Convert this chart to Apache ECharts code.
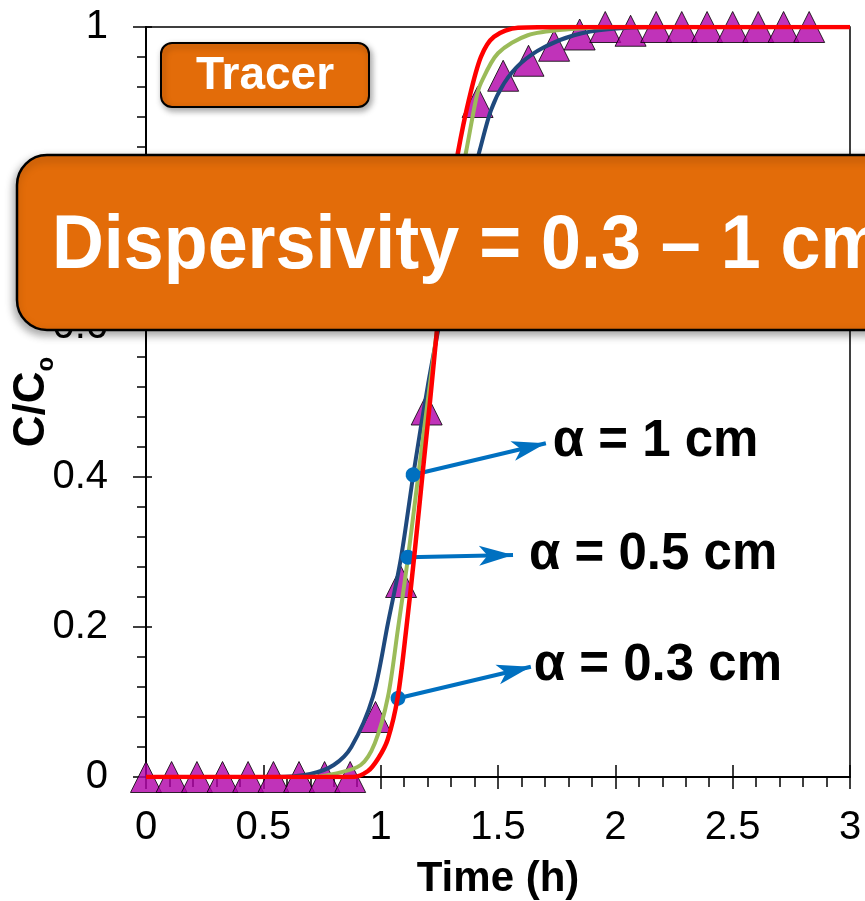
<!DOCTYPE html>
<html>
<head>
<meta charset="utf-8">
<script src="https://cdn.jsdelivr.net/npm/echarts@6/dist/echarts.min.js"></script>
<style>
  html, body { margin: 0; padding: 0; background: #ffffff; }
  #chart { width: 865px; height: 901px; }
</style>
</head>
<body>
<div id="chart"></div>
<script>
const FONT = '"Liberation Sans", Arial, Helvetica, sans-serif';

// Measured tracer breakthrough: time (h) and relative concentration C/Co
const tracerTime = [0, 0.109, 0.217, 0.326, 0.435, 0.543, 0.652, 0.761, 0.870, 0.978,
  1.087, 1.196, 1.304, 1.413, 1.522, 1.630, 1.739, 1.848, 1.957, 2.065,
  2.174, 2.283, 2.391, 2.500, 2.609, 2.717, 2.826];
const tracerConc = [0, 0, 0, 0, 0, 0, 0, 0, 0, 0.08,
  0.26, 0.49, 0.75, 0.90, 0.935, 0.955, 0.975, 0.99, 1.0, 0.995,
  1.0, 1.0, 1.0, 1.0, 1.0, 1.0, 1.0];

// Fitted model curves for three dispersivity values
const timeA1  = [0, 0.55, 0.70, 0.80, 0.875, 0.967, 1.031, 1.087, 1.142, 1.20, 1.245, 1.31, 1.38, 1.419, 1.47, 1.526, 1.598, 1.696, 1.824, 1.968, 2.2, 3.0];
const concA1  = [0, 0, 0.004, 0.016, 0.04, 0.107, 0.205, 0.293, 0.409, 0.52, 0.596, 0.70, 0.79, 0.832, 0.889, 0.925, 0.952, 0.973, 0.989, 0.997, 1.0, 1.0];

const timeA05 = [0, 0.70, 0.80, 0.915, 0.975, 1.031, 1.073, 1.115, 1.163, 1.20, 1.24, 1.283, 1.335, 1.363, 1.406, 1.427, 1.50, 1.627, 1.80, 2.0, 3.0];
const concA05 = [0, 0, 0.004, 0.016, 0.045, 0.107, 0.196, 0.289, 0.409, 0.50, 0.596, 0.70, 0.79, 0.832, 0.903, 0.925, 0.965, 0.989, 0.997, 1.0, 1.0];

const timeA03 = [0, 0.88, 0.946, 0.99, 1.03, 1.073, 1.11, 1.145, 1.18, 1.21, 1.24, 1.275, 1.31, 1.329, 1.376, 1.427, 1.483, 1.585, 1.8, 3.0];
const concA03 = [0, 0, 0.008, 0.025, 0.05, 0.107, 0.20, 0.30, 0.409, 0.50, 0.596, 0.70, 0.79, 0.832, 0.903, 0.96, 0.987, 0.999, 1.0, 1.0];

// Callouts: start point on a curve, arrow tip, label
const calloutLabels = ['α = 1 cm', 'α = 0.5 cm', 'α = 0.3 cm'];
const calloutFrom   = [[1.138, 0.403], [1.116, 0.293], [1.074, 0.105]];
const calloutTo     = [[1.704, 0.445], [1.564, 0.296], [1.640, 0.147]];
const calloutGap    = [7, 16, 3];

// Axis tick labels
const xTickLabels = ['0', '0.5', '1', '1.5', '2', '2.5', '3'];
const yTickLabels = ['0', '0.2', '0.4', '0.6', '0.8', '1'];

const pairs = (xs, ys) => xs.map((x, i) => [x, ys[i]]);

const chart = echarts.init(document.getElementById('chart'), null, { renderer: 'canvas' });

const tickLine = { color: '#000', width: 1.5 };

const curveStyle = (color, width) => ({
  type: 'line', xAxisIndex: 0, yAxisIndex: 0,
  showSymbol: false, smooth: 0.3,
  lineStyle: { color: color, width: width }
});

const option = {
  animation: false,
  backgroundColor: '#ffffff',
  grid: {
    left: 146, right: 15, top: 27, bottom: 124,
    containLabel: false, outerBoundsMode: 'none',
    show: true, borderColor: '#000', borderWidth: 1.5, backgroundColor: 'transparent'
  },
  xAxis: [
    {
      type: 'value', min: 0, max: 3, interval: 0.5, position: 'bottom',
      name: 'Time (h)', nameLocation: 'middle', nameGap: 81, nameMoveOverlap: false,
      nameTextStyle: { fontFamily: FONT, fontSize: 42, fontWeight: 'bold', color: '#000' },
      axisLine: { show: true, onZero: false, lineStyle: { color: '#000', width: 2 } },
      axisTick: { show: true, inside: false, length: 12, lineStyle: tickLine },
      minorTick: { show: true, splitNumber: 5, length: 10, lineStyle: tickLine },
      splitLine: { show: false },
      axisLabel: {
        fontFamily: FONT, fontSize: 40, color: '#000', margin: 31,
        formatter: v => xTickLabels[Math.round(v / 0.5)]
      }
    },
    {
      type: 'value', min: 0, max: 3, interval: 0.5, position: 'bottom',
      axisLine: { show: false },
      axisTick: { show: true, inside: true, length: 12, lineStyle: tickLine },
      splitLine: { show: false },
      axisLabel: { show: false }
    }
  ],
  yAxis: [
    {
      type: 'value', min: 0, max: 1, interval: 0.2, position: 'left',
      name: '{c|C/C}{o|o}', nameLocation: 'middle', nameGap: 88, nameMoveOverlap: false,
      nameTextStyle: {
        rich: {
          c: { fontFamily: FONT, fontSize: 44, fontWeight: 'bold', color: '#000', lineHeight: 52 },
          o: { fontFamily: FONT, fontSize: 24, fontWeight: 'bold', color: '#000', lineHeight: 24, verticalAlign: 'bottom' }
        }
      },
      axisLine: { show: true, onZero: false, lineStyle: { color: '#000', width: 2 } },
      axisTick: { show: true, inside: false, length: 13, lineStyle: tickLine },
      minorTick: { show: true, splitNumber: 5, length: 9, lineStyle: tickLine },
      splitLine: { show: false },
      axisLabel: {
        fontFamily: FONT, fontSize: 40, color: '#000', margin: 38,
        formatter: v => yTickLabels[Math.round(v / 0.2)]
      }
    },
    {
      type: 'value', min: 0, max: 1, interval: 0.2, position: 'left',
      axisLine: { show: false },
      axisTick: { show: true, inside: true, length: 6, lineStyle: tickLine },
      splitLine: { show: false },
      axisLabel: { show: false }
    }
  ],
  series: [
    {
      name: 'Tracer', type: 'scatter', xAxisIndex: 0, yAxisIndex: 0,
      symbol: 'triangle', symbolSize: [31, 31],
      itemStyle: { color: '#B000A8', borderColor: '#000', borderWidth: 1 },
      data: pairs(tracerTime, tracerConc), z: 2
    },
    Object.assign(curveStyle('#1F497D', 4), { name: 'α = 1 cm', data: pairs(timeA1, concA1), z: 3 }),
    Object.assign(curveStyle('#9BBB59', 4), { name: 'α = 0.5 cm', data: pairs(timeA05, concA05), z: 4 }),
    Object.assign(curveStyle('#FF0000', 4.5), {
      name: 'α = 0.3 cm', data: pairs(timeA03, concA03), z: 5,
      markLine: {
        silent: true,
        animation: false,
        symbol: ['circle', 'arrow'],
        symbolSize: [15, 34],
        lineStyle: { color: '#0070C0', width: 4, type: 'solid' },
        itemStyle: { color: '#0070C0' },
        label: {
          show: true, position: 'end', formatter: '{b}',
          fontFamily: FONT, fontSize: 51, fontWeight: 'bold', color: '#000'
        },
        emphasis: { disabled: true },
        data: calloutLabels.map((txt, i) => [
          { name: txt, coord: calloutFrom[i], label: { distance: calloutGap[i] } },
          { coord: calloutTo[i] }
        ])
      }
    })
  ],
  graphic: [
    {
      type: 'rect', z: 100,
      shape: { x: 161, y: 43, width: 208, height: 64, r: 11 },
      style: {
        fill: '#E36C09', stroke: '#000', lineWidth: 2,
        shadowBlur: 6, shadowOffsetX: 2, shadowOffsetY: 3, shadowColor: 'rgba(0,0,0,0.35)'
      }
    },
    {
      type: 'text', z: 101, x: 265, y: 76,
      style: {
        text: 'Tracer', fill: '#ffffff', font: 'bold 46px ' + FONT,
        align: 'center', verticalAlign: 'middle'
      }
    },
    {
      type: 'rect', z: 100,
      shape: { x: 17, y: 155, width: 920, height: 175, r: 30 },
      style: {
        fill: '#E36C09', stroke: '#000', lineWidth: 2.5,
        shadowBlur: 8, shadowOffsetX: -2, shadowOffsetY: 4, shadowColor: 'rgba(0,0,0,0.35)'
      }
    },
    {
      type: 'text', z: 101, x: 52, y: 247, scaleX: 0.945,
      style: {
        text: 'Dispersivity = 0.3 – 1 cm', fill: '#ffffff', font: 'bold 76px ' + FONT,
        align: 'left', verticalAlign: 'middle'
      }
    }
  ]
};

chart.setOption(option);
</script>
</body>
</html>
